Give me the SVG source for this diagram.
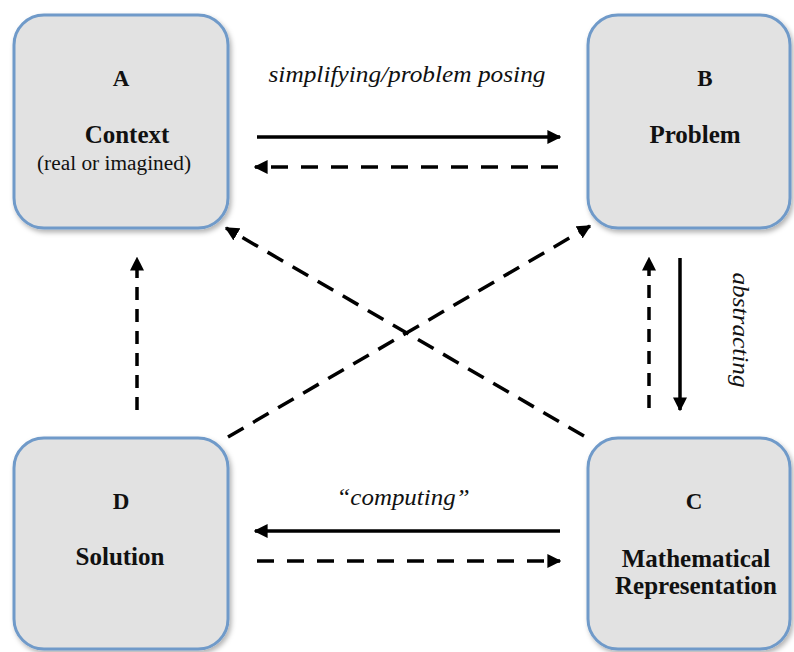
<svg xmlns="http://www.w3.org/2000/svg" width="794" height="652" viewBox="0 0 794 652">
<style>
.box{fill:#e2e2e2;stroke:#6f9ac9;stroke-width:3}
text{font-family:'Liberation Serif','Times New Roman',Times,'DejaVu Serif',serif;fill:#111;text-anchor:middle}
.t{font-weight:bold;font-size:25px}
.l{font-weight:bold;font-size:23px}
.s{font-size:20px}
.i{font-style:italic;font-size:23px}
.ln{stroke:#000;stroke-width:3.5;fill:none}
.d{stroke-dasharray:17 13}
.dv{stroke-dasharray:13 9}
.dd{stroke-dasharray:18 11}
</style>
<defs>
<marker id="ah" viewBox="0 0 10 10" refX="9" refY="5" markerWidth="4" markerHeight="4" orient="auto" markerUnits="strokeWidth">
<path d="M0,0 L10,5 L0,10 Z" fill="#000"/>
</marker>
<filter id="sh" x="-10%" y="-10%" width="130%" height="130%">
<feDropShadow dx="2" dy="3" stdDeviation="2.5" flood-color="#000" flood-opacity="0.3"/>
</filter>
</defs>
<rect width="794" height="652" fill="#fff"/>
<g id="nodeA">
<rect class="box" x="14" y="15" width="214" height="213" rx="30" filter="url(#sh)"/>
<text class="l" x="121" y="86">A</text>
<text class="t" x="127" y="143">Context</text>
<text class="s" x="114" y="170" textLength="154" lengthAdjust="spacingAndGlyphs">(real or imagined)</text>
</g>
<g id="nodeB">
<rect class="box" x="588" y="15" width="202" height="213" rx="30" filter="url(#sh)"/>
<text class="l" x="705" y="86">B</text>
<text class="t" x="695" y="143">Problem</text>
</g>
<g id="nodeD">
<rect class="box" x="14" y="438" width="214" height="211" rx="30" filter="url(#sh)"/>
<text class="l" x="121" y="509">D</text>
<text class="t" x="120" y="565">Solution</text>
</g>
<g id="nodeC">
<rect class="box" x="588" y="438" width="202" height="211" rx="30" filter="url(#sh)"/>
<text class="l" x="694" y="509">C</text>
<text class="t" x="696" y="567">Mathematical</text>
<text class="t" x="696" y="594">Representation</text>
</g>
<g id="connectors">
<line class="ln" x1="257" y1="137" x2="560" y2="137" marker-end="url(#ah)"/>
<line class="ln d" x1="558" y1="167" x2="255" y2="167" marker-end="url(#ah)"/>
<text class="i" x="407" y="82" textLength="277" lengthAdjust="spacingAndGlyphs">simplifying/problem posing</text>
<line class="ln" x1="680" y1="258" x2="680" y2="410" marker-end="url(#ah)"/>
<line class="ln dv" x1="649" y1="408" x2="649" y2="258" marker-end="url(#ah)"/>
<text class="i" transform="translate(733,330) rotate(90)" textLength="115" lengthAdjust="spacingAndGlyphs">abstracting</text>
<line class="ln" x1="560" y1="531" x2="255" y2="531" marker-end="url(#ah)"/>
<line class="ln d" x1="257" y1="561" x2="560" y2="561" marker-end="url(#ah)"/>
<text class="i" x="403" y="505" textLength="133" lengthAdjust="spacingAndGlyphs">“computing”</text>
<line class="ln dv" x1="137" y1="410" x2="137" y2="258" marker-end="url(#ah)"/>
<line class="ln dd" x1="584" y1="436" x2="226" y2="228" marker-end="url(#ah)"/>
<line class="ln dd" x1="228" y1="437" x2="590" y2="226" marker-end="url(#ah)"/>
</g>
</svg>
